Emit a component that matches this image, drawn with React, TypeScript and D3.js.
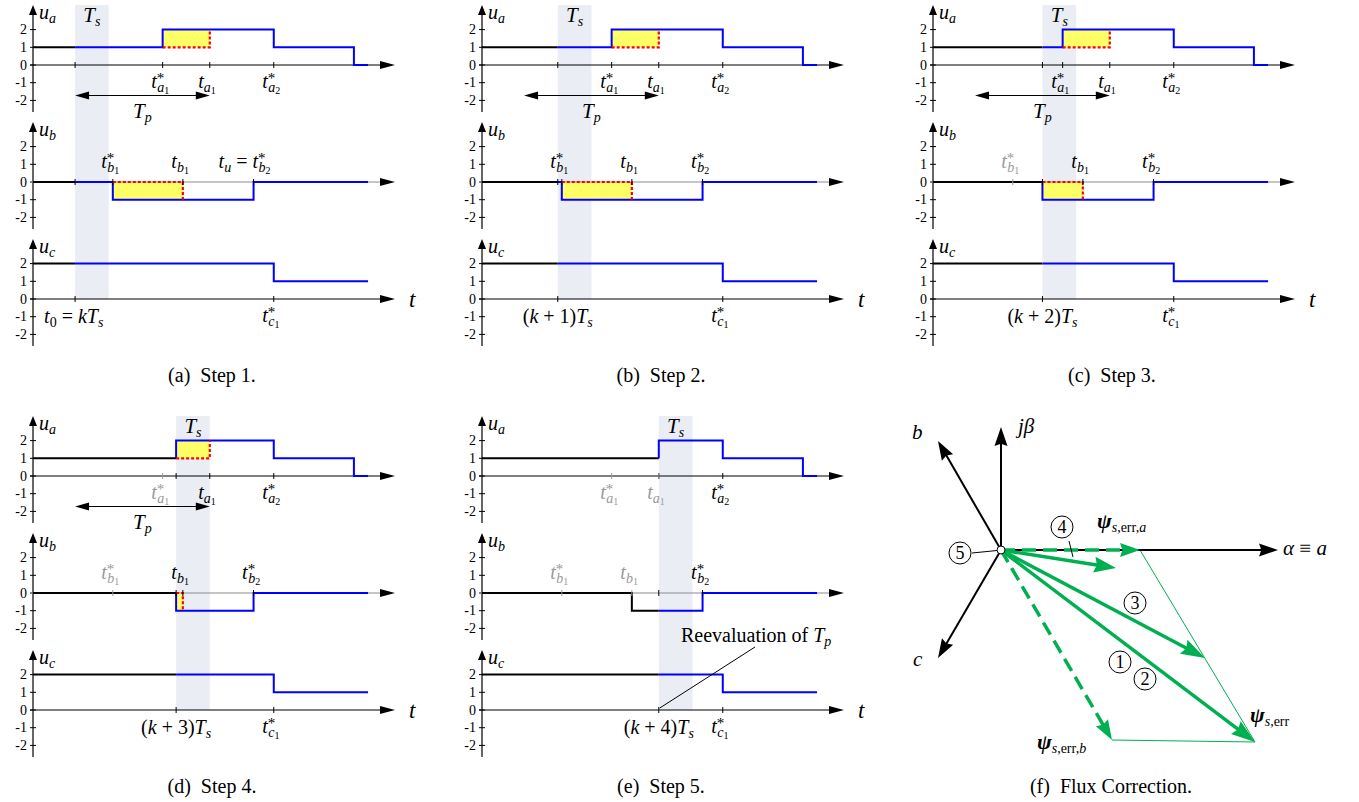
import React, { useRef, useEffect } from 'react';
import * as d3 from 'd3';

// ---- timing data (time in units of Ts, t0 = kTs = 0) ----
const steps = [0, 1, 2, 3, 4];
const captionLetters = ['(a)', '(b)', '(c)', '(d)', '(e)'];
const captionTexts = ['Step 1.', 'Step 2.', 'Step 3.', 'Step 4.', 'Step 5.'];
const stepOffsets = ['', '1', '2', '3', '4'];

const uaLevels = [1, 2, 1, 0];
const ubLevels = [0, -1, 0];
const ucLevels = [2, 1];

const uaRise = [2.6, 2.6, 2.6, 3, 4];     // ua: 1 -> 2, per step
const ubFall = [1.12, 1.12, 2, 3, 3.2];   // ub: 0 -> -1, per step
const uaLater = [5.9, 8.28];              // t*_a2, then 1 -> 0
const ubLater = [5.3];                    // t*_b2
const ucSwitch = [5.9];                   // t*_c1
const tA1Star = 2.6;
const tA1 = 4;
const tB1Star = 1.12;
const tB1 = 3.2;
const tEnd = 8.7;
const tAxis = -1.25;
const tArrow = 9.5;

const grayA1Star = [false, false, false, true, true];
const grayA1 = [false, false, false, false, true];
const grayB1Star = [false, false, true, true, true];
const grayB1 = [false, false, false, false, true];
const showCorrection = [true, true, true, true, false];

const yTicks = [2, 1, 0, -1, -2];

// ---- flux correction vectors (alpha, beta) ----
const axisAlpha = [2.77, 0];
const axisBeta = [0, 1.23];
const axisB = [-0.63, 1.09];
const axisC = [-0.63, -1.08];
const psiA = [1.39, 0];
const psiB = [1.11, -1.9];
const psiErr = [2.54, -1.92];
const psiStep3 = [2.04, -1.08];
const psiStep4 = [1.15, -0.18];

const FONT = 'Liberation Serif, DejaVu Serif, serif';
const BLUE = '#0000ff';
const RED = '#ff0000';
const YELLOW = '#ffff66';
const SHADE = '#eaeef4';
const GRAY = '#9a9a9a';
const AXIS_GRAY = '#8c8c8c';
const GREEN = '#00b050';

const panelX = [33, 482, 933, 33, 482];
const panelTop = [65, 65, 65, 476, 476];

type Part = { s: string; it?: boolean; b?: boolean; fs?: number; dy?: number; dx?: number };

function txt(g: any, x: number, y: number, parts: Part[], anchor = 'start', color = '#000') {
  const t = g.append('text').attr('x', x).attr('y', y).attr('text-anchor', anchor)
    .attr('fill', color).attr('font-family', FONT).style('white-space', 'pre');
  let cur = 0;
  parts.forEach(p => {
    const off = p.dy || 0;
    const s = t.append('tspan').attr('dy', off - cur).attr('font-size', p.fs || 20)
      .attr('font-style', p.it ? 'italic' : 'normal')
      .attr('font-weight', p.b ? 'bold' : 'normal').text(p.s);
    if (p.dx) s.attr('dx', p.dx);
    cur = off;
  });
  return t;
}

// parts of a t^*_{x_n} symbol
function tParts(letter: string, idx: string, star: boolean): Part[] {
  const parts: Part[] = [{ s: 't', it: true }];
  if (star) {
    parts.push({ s: '*', fs: 15, dy: -5 });
    parts.push({ s: letter, it: true, fs: 14, dy: 4, dx: -7 });
  } else {
    parts.push({ s: letter, it: true, fs: 14, dy: 4 });
  }
  parts.push({ s: idx, fs: 10, dy: 6 });
  return parts;
}

function tLabel(g: any, x: number, y: number, letter: string, idx: string, star: boolean, color: string) {
  txt(g, x - 11.5, y, tParts(letter, idx, star), 'start', color);
}

function arrow(g: any, p1: number[], p2: number[], color: string, width: number, len: number, half: number, dash?: string) {
  const dx = p2[0] - p1[0], dy = p2[1] - p1[1], L = Math.hypot(dx, dy);
  const ux = dx / L, uy = dy / L;
  const bx = p2[0] - ux * len, by = p2[1] - uy * len;
  const ln = g.append('line').attr('x1', p1[0]).attr('y1', p1[1])
    .attr('x2', p2[0] - ux * len * 0.6).attr('y2', p2[1] - uy * len * 0.6)
    .attr('stroke', color).attr('stroke-width', width);
  if (dash) ln.attr('stroke-dasharray', dash);
  const pts = [[p2[0], p2[1]], [bx - uy * half, by + ux * half],
    [p2[0] - ux * len * 0.88, p2[1] - uy * len * 0.88], [bx + uy * half, by - ux * half]];
  g.append('polygon').attr('points', pts.map(p => p.join(',')).join(' ')).attr('fill', color);
}

function segment(breaks: number[], levels: number[], from: number, to: number): [number, number][] {
  const before = (t: number) => levels[breaks.filter(b => b < t).length];
  const pts: [number, number][] = [[from, before(from)]];
  breaks.forEach((b, i) => { if (b >= from && b < to) pts.push([b, levels[i + 1]]); });
  pts.push([to, before(to)]);
  return pts;
}

export default function App() {
  const svgRef = useRef<SVGSVGElement>(null);

  useEffect(() => {
    const svg = d3.select(svgRef.current);
    svg.selectAll('*').remove();

    steps.forEach((tk, k) => {
      const x0 = panelX[k], top = panelTop[k];
      const x = d3.scaleLinear().domain([tAxis, tArrow]).range([x0, x0 + 362]);
      const rows = [top, top + 117, top + 234];
      const g = svg.append('g');

      // sampling interval shading
      g.append('rect').attr('x', x(tk)).attr('y', rows[0] - 60)
        .attr('width', x(tk + 1) - x(tk)).attr('height', rows[2] - rows[0] + 60).attr('fill', SHADE);
      txt(g, (x(tk) + x(tk + 1)) / 2, rows[0] - 43, [{ s: 'T', it: true, fs: 21 }, { s: 's', it: true, fs: 14, dy: 4 }], 'middle');

      const breaksList = [[uaRise[k], ...uaLater], [ubFall[k], ...ubLater], ucSwitch];
      const levelsList = [uaLevels, ubLevels, ucLevels];
      const names = ['a', 'b', 'c'];

      rows.forEach((y0, r) => {
        const y = d3.scaleLinear().domain([-2, 2]).range([y0 + 35.4, y0 - 35.4]);

        if (showCorrection[k] && r < 2) {
          const [t1, t2, v1, v2] = r === 0 ? [uaRise[k], tA1, 1, 2] : [ubFall[k], tB1, -1, 0];
          g.append('rect').attr('x', x(t1)).attr('y', y(v2)).attr('width', x(t2) - x(t1))
            .attr('height', y(v1) - y(v2)).attr('fill', YELLOW);
        }

        // y axis
        g.append('line').attr('x1', x0).attr('x2', x0).attr('y1', y0 + 47).attr('y2', y0 - 51)
          .attr('stroke', '#000').attr('stroke-width', 1.2);
        g.append('polygon').attr('points', `${x0},${y0 - 60} ${x0 - 4},${y0 - 50} ${x0 + 4},${y0 - 50}`).attr('fill', '#000');
        yTicks.forEach(v => {
          g.append('line').attr('x1', x0 - 3).attr('x2', x0 + 3).attr('y1', y(v)).attr('y2', y(v))
            .attr('stroke', '#000').attr('stroke-width', 1);
          txt(g, x0 - 6, y(v) + 4.5, [{ s: String(v), fs: 14 }], 'end');
        });
        txt(g, x0 + 6, y0 - 46, [{ s: 'u', it: true, fs: 20 }, { s: names[r], it: true, fs: 14, dy: 4 }]);

        // x axis
        const xt = x(tArrow);
        g.append('line').attr('x1', x0 - 3).attr('x2', xt - 12).attr('y1', y0).attr('y2', y0)
          .attr('stroke', r === 1 ? AXIS_GRAY : '#000').attr('stroke-width', 1.2);
        g.append('polygon').attr('points', `${xt},${y0} ${xt - 15},${y0 - 4} ${xt - 15},${y0 + 4}`).attr('fill', '#000');

        // waveforms: past in black, planned in blue
        const line = d3.line<[number, number]>().x(d => x(d[0])).y(d => y(d[1])).curve(d3.curveStepAfter);
        const br = breaksList[r], lv = levelsList[r];
        g.append('path').attr('d', line(segment(br, lv, tAxis, tk))).attr('fill', 'none')
          .attr('stroke', '#000').attr('stroke-width', 2);
        g.append('path').attr('d', line(segment(br, lv, tk, tEnd))).attr('fill', 'none')
          .attr('stroke', BLUE).attr('stroke-width', 2);

        if (showCorrection[k] && r < 2) {
          const d = r === 0
            ? `M${x(uaRise[k])},${y(1)}H${x(tA1)}V${y(2)}`
            : `M${x(ubFall[k])},${y(0)}H${x(tB1)}V${y(-1)}`;
          g.append('path').attr('d', d).attr('fill', 'none').attr('stroke', RED)
            .attr('stroke-width', 2.2).attr('stroke-dasharray', '3,2');
        }

        const tick = (t: number, color: string) => g.append('line').attr('x1', x(t)).attr('x2', x(t))
          .attr('y1', y0 - 3).attr('y2', y0 + 3).attr('stroke', color).attr('stroke-width', 1);

        if (r === 0) {
          tick(tk, '#000');
          const cS = grayA1Star[k] ? GRAY : '#000', c1 = grayA1[k] ? GRAY : '#000';
          tick(tA1Star, cS); tLabel(g, x(tA1Star), y0 + 23, 'a', '1', true, cS);
          tick(tA1, c1); tLabel(g, x(tA1), y0 + 23, 'a', '1', false, c1);
          tick(uaLater[0], '#000'); tLabel(g, x(uaLater[0]), y0 + 23, 'a', '2', true, '#000');
          if (showCorrection[k]) {
            const ya = y0 + 30.5, xa = x(0), xb = x(tA1);
            g.append('line').attr('x1', xa + 8).attr('x2', xb - 8).attr('y1', ya).attr('y2', ya)
              .attr('stroke', '#000').attr('stroke-width', 1);
            g.append('polygon').attr('points', `${xa},${ya} ${xa + 14},${ya - 4} ${xa + 14},${ya + 4}`).attr('fill', '#000');
            g.append('polygon').attr('points', `${xb},${ya} ${xb - 14},${ya - 4} ${xb - 14},${ya + 4}`).attr('fill', '#000');
            txt(g, x(2), y0 + 53, [{ s: 'T', it: true, fs: 21 }, { s: 'p', it: true, fs: 14, dy: 4 }], 'middle');
          }
        } else if (r === 1) {
          tick(tk, '#000');
          const cS = grayB1Star[k] ? GRAY : '#000', c1 = grayB1[k] ? GRAY : '#000';
          tick(tB1Star, cS); tLabel(g, x(tB1Star), y0 - 14, 'b', '1', true, cS);
          tick(tB1, c1); tLabel(g, x(tB1), y0 - 14, 'b', '1', false, c1);
          tick(ubLater[0], '#000');
          if (k === 0) {
            txt(g, x(ubLater[0]) - 35, y0 - 14, [{ s: 't', it: true }, { s: 'u', it: true, fs: 14, dy: 4 },
              { s: ' = ', dy: 0 }, ...tParts('b', '2', true)]);
          } else {
            tLabel(g, x(ubLater[0]), y0 - 14, 'b', '2', true, '#000');
          }
        } else {
          tick(tk, '#000');
          if (k === 0) {
            txt(g, x(tk) - 31, y0 + 24, [{ s: 't', it: true }, { s: '0', fs: 14, dy: 4 }, { s: ' = ' },
              { s: 'kT', it: true }, { s: 's', it: true, fs: 14, dy: 4 }]);
          } else {
            txt(g, x(tk), y0 + 24, [{ s: '(' }, { s: 'k', it: true }, { s: ` + ${stepOffsets[k]})` },
              { s: 'T', it: true }, { s: 's', it: true, fs: 14, dy: 4 }], 'middle');
          }
          tick(ucSwitch[0], '#000'); tLabel(g, x(ucSwitch[0]), y0 + 23, 'c', '1', true, '#000');
          txt(g, x0 + 376, y0 + 8, [{ s: 't', it: true, fs: 23 }]);
        }
      });

      if (k === 4) {
        g.append('line').attr('x1', x(tk) + 1).attr('y1', rows[2] - 2).attr('x2', x0 + 273).attr('y2', rows[2] - 63)
          .attr('stroke', '#000').attr('stroke-width', 1);
        txt(g, x0 + 199, rows[2] - 68, [{ s: 'Reevaluation of ' }, { s: 'T', it: true }, { s: 'p', it: true, fs: 14, dy: 4 }]);
      }

      txt(g, x0 + 179, top + 317, [{ s: `${captionLetters[k]}  ${captionTexts[k]}` }], 'middle');
    });

    // ---- (f) flux correction ----
    const fx = d3.scaleLinear().domain([0, 1]).range([1001, 1101]);
    const fy = d3.scaleLinear().domain([0, 1]).range([550, 450]);
    const P = (v: number[]) => [fx(v[0]), fy(v[1])];
    const O = P([0, 0]);
    const f = svg.append('g');

    f.append('line').attr('x1', P(psiA)[0]).attr('y1', P(psiA)[1]).attr('x2', P(psiErr)[0]).attr('y2', P(psiErr)[1])
      .attr('stroke', GREEN).attr('stroke-width', 1);
    f.append('line').attr('x1', P(psiB)[0]).attr('y1', P(psiB)[1]).attr('x2', P(psiErr)[0]).attr('y2', P(psiErr)[1])
      .attr('stroke', GREEN).attr('stroke-width', 1);

    [axisAlpha, axisBeta, axisB, axisC].forEach(v => arrow(f, O, P(v), '#000', 2, 19, 6.5));

    arrow(f, O, P(psiA), GREEN, 3.5, 20, 7, '14,7');
    arrow(f, O, P(psiB), GREEN, 3.5, 20, 7, '14,7');
    arrow(f, O, P(psiErr), GREEN, 3.5, 24, 8);
    arrow(f, O, P(psiStep3), GREEN, 3.5, 24, 8);
    arrow(f, O, P(psiStep4), GREEN, 3.5, 22, 8);

    f.append('circle').attr('cx', O[0]).attr('cy', O[1]).attr('r', 4).attr('fill', '#fff')
      .attr('stroke', '#000').attr('stroke-width', 1);

    // leaders for circled numbers
    f.append('line').attr('x1', 972).attr('y1', 553).attr('x2', O[0] - 4).attr('y2', O[1] + 0.5).attr('stroke', '#000').attr('stroke-width', 1);
    f.append('line').attr('x1', 1069).attr('y1', 541).attr('x2', 1073).attr('y2', 557).attr('stroke', '#000').attr('stroke-width', 1);

    const circled: [string, number, number][] = [['1', 1120, 662], ['2', 1145, 679], ['3', 1135, 603], ['4', 1062, 527], ['5', 960, 553]];
    circled.forEach(([n, cx, cy]) => {
      f.append('circle').attr('cx', cx).attr('cy', cy).attr('r', 11).attr('fill', '#fff')
        .attr('stroke', '#000').attr('stroke-width', 1);
      txt(f, cx, cy + 6, [{ s: n, fs: 18 }], 'middle');
    });

    txt(f, 1018, 433, [{ s: 'jβ', it: true, fs: 21 }]);
    txt(f, 912, 439, [{ s: 'b', it: true, fs: 21 }]);
    txt(f, 913, 666, [{ s: 'c', it: true, fs: 21 }]);
    txt(f, 1283, 555, [{ s: 'α', it: true, fs: 21 }, { s: ' ≡ ', fs: 21 }, { s: 'a', it: true, fs: 21 }]);
    txt(f, 1097, 528, [{ s: 'ψ', it: true, b: true, fs: 22 }, { s: 's', it: true, fs: 14, dy: 4 },
      { s: ',err,', fs: 14, dy: 4 }, { s: 'a', it: true, fs: 14, dy: 4 }]);
    txt(f, 1250, 722, [{ s: 'ψ', it: true, b: true, fs: 22 }, { s: 's', it: true, fs: 14, dy: 4 },
      { s: ',err', fs: 14, dy: 4 }]);
    txt(f, 1037, 749, [{ s: 'ψ', it: true, b: true, fs: 22 }, { s: 's', it: true, fs: 14, dy: 4 },
      { s: ',err,', fs: 14, dy: 4 }, { s: 'b', it: true, fs: 14, dy: 4 }]);

    txt(f, 1111, 793, [{ s: '(f)  Flux Correction.' }], 'middle');
  }, []);

  return (
    <svg ref={svgRef} width={1359} height={802}
      style={{ position: 'absolute', left: 0, top: 0, background: '#fff', fontFamily: FONT }} />
  );
}
